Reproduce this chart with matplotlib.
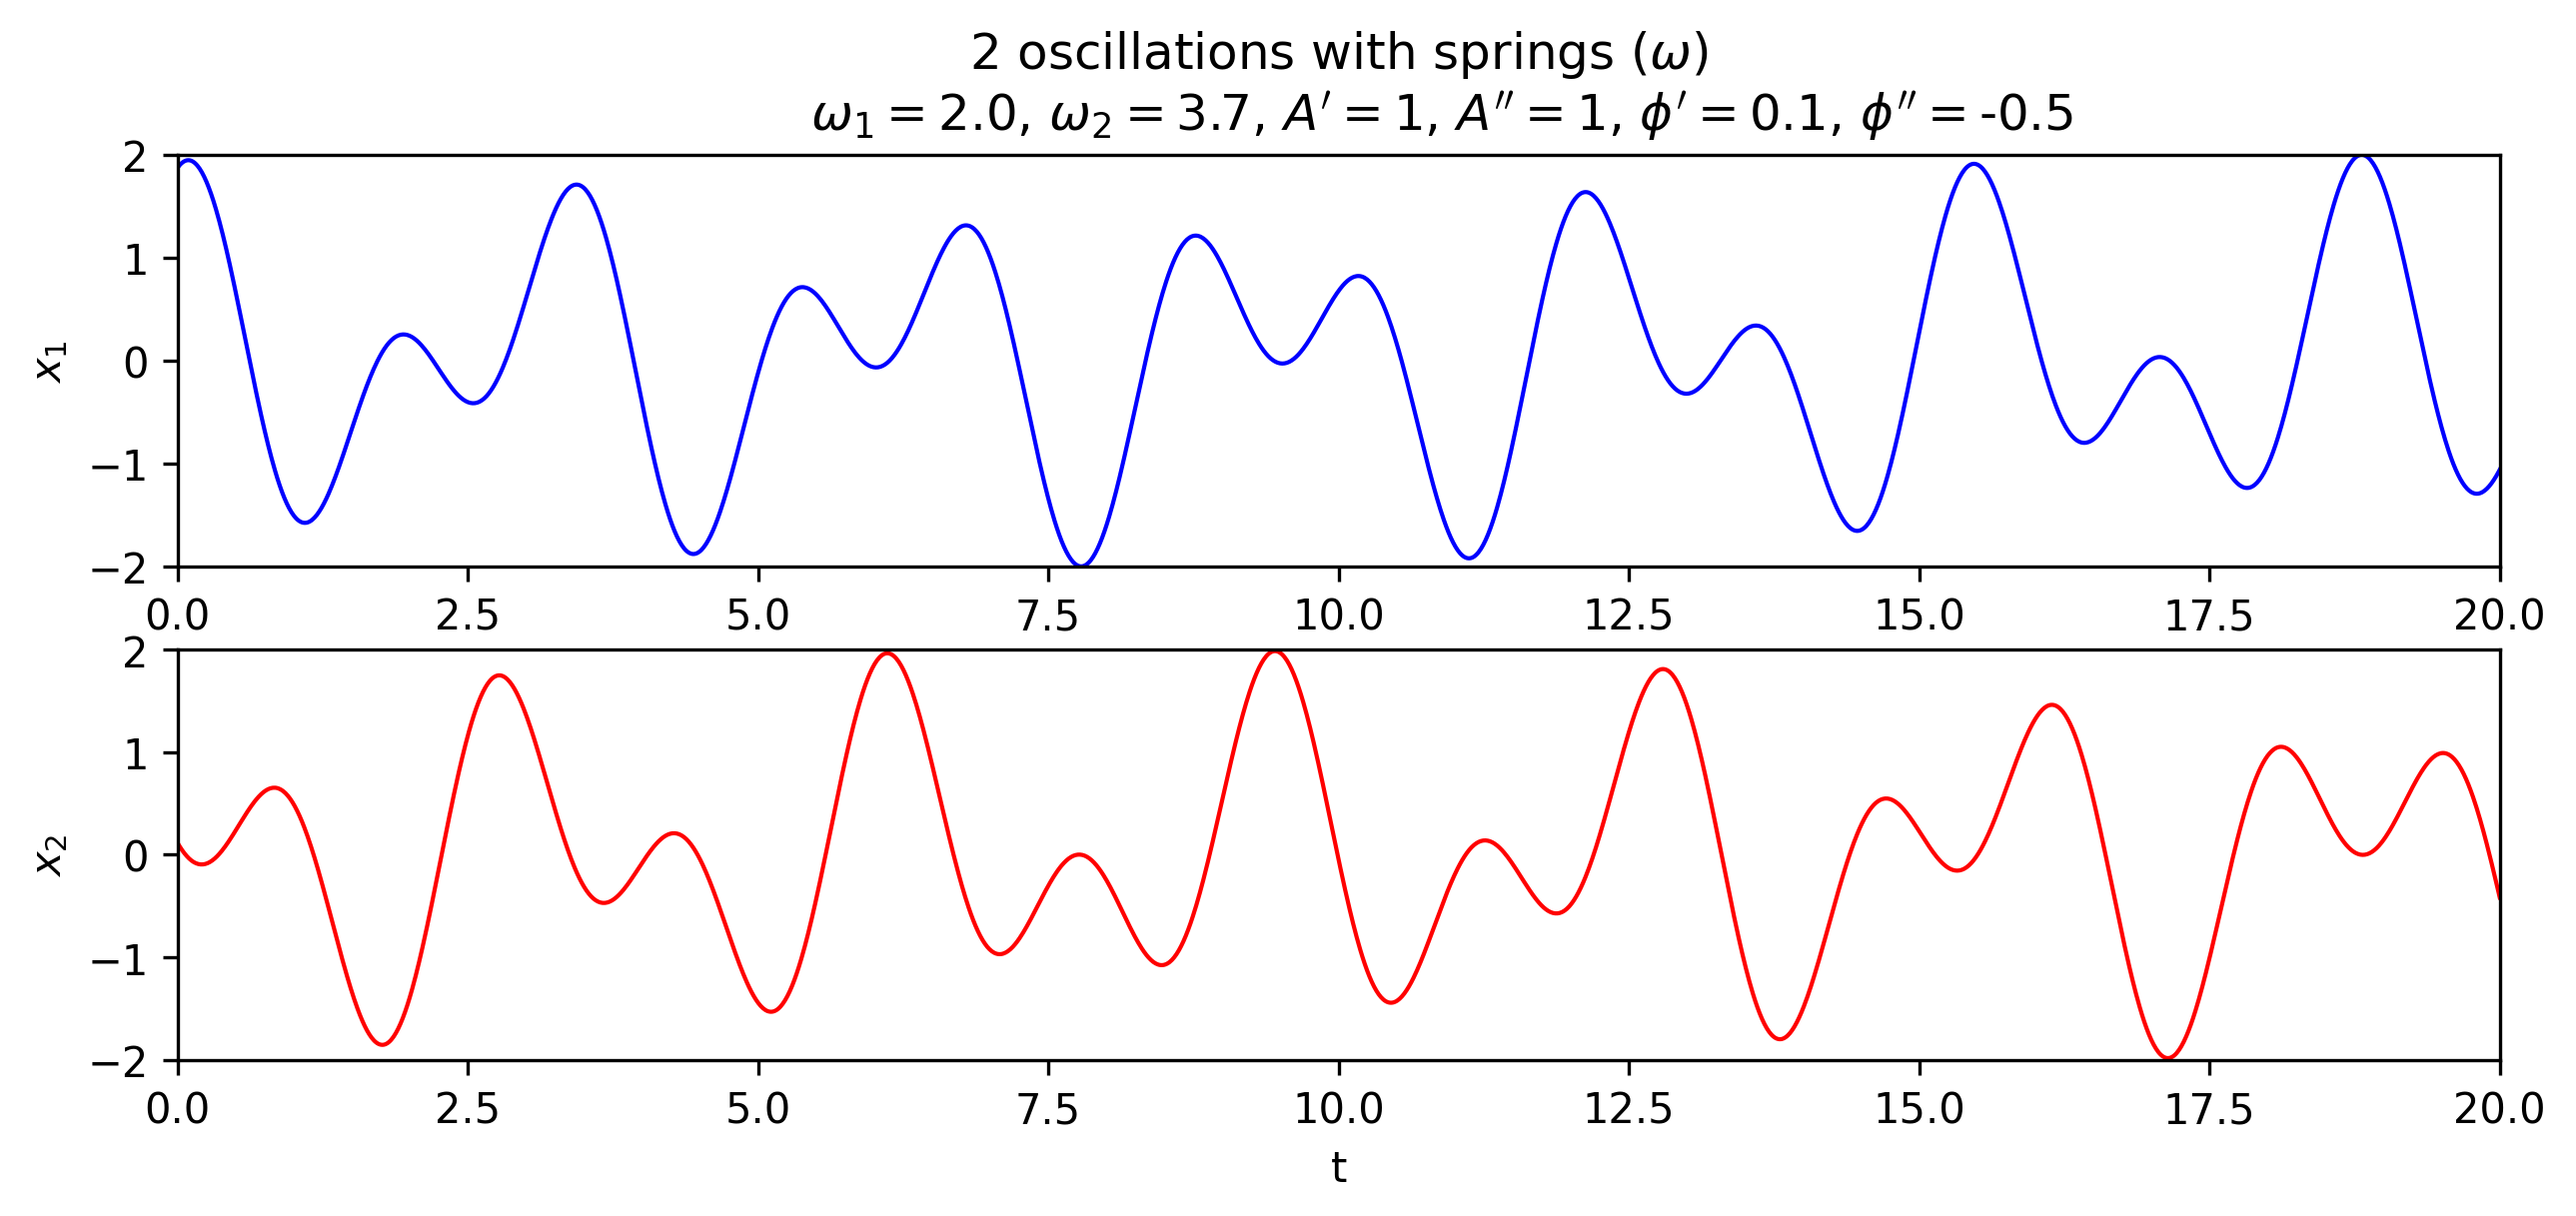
import matplotlib
matplotlib.use("Agg")
import matplotlib.pyplot as plt
import numpy as np

# parameters shown in the title
omega1 = 2.0
omega2 = 3.7
A1 = 1      # A'
A2 = 1      # A''
phi1 = 0.1  # phi'
phi2 = -0.5 # phi''
t_start, t_end, n_samples = 0.0, 20.0, 2000

t = np.linspace(t_start, t_end, n_samples)
# normal mode superposition of the two coupled springs
mode1 = A1 * np.cos(omega1 * t + phi1)
mode2 = A2 * np.cos(omega2 * t + phi2)
x1 = mode1 + mode2
x2 = mode1 - mode2

dpi = 300
fig = plt.figure(figsize=(2578 / dpi, 1218 / dpi), dpi=dpi)
ax1 = fig.add_axes([0.0689, 0.5337, 0.9015, 0.3383])
ax2 = fig.add_axes([0.0689, 0.1281, 0.9015, 0.3374])

ax1.plot(t, x1, color="blue", linewidth=1)
ax2.plot(t, x2, color="red", linewidth=1)

for ax in (ax1, ax2):
    ax.set_xlim(t_start, t_end)
    ax.set_ylim(-2, 2)
    ax.set_yticks([-2, -1, 0, 1, 2])

ax1.set_ylabel(r"$x_1$")
ax2.set_ylabel(r"$x_2$")
ax2.set_xlabel("t")

ax1.set_title("2 oscillations with springs ($\\omega$)\n"
              "             "
              f"$\\omega_1 = {omega1}$, $\\omega_2 = {omega2}$, $A' = {A1}$, "
              f"$A'' = {A2}$, $\\phi' = {phi1}$, $\\phi'' = ${phi2}")

fig.savefig("out.png", dpi=dpi)
